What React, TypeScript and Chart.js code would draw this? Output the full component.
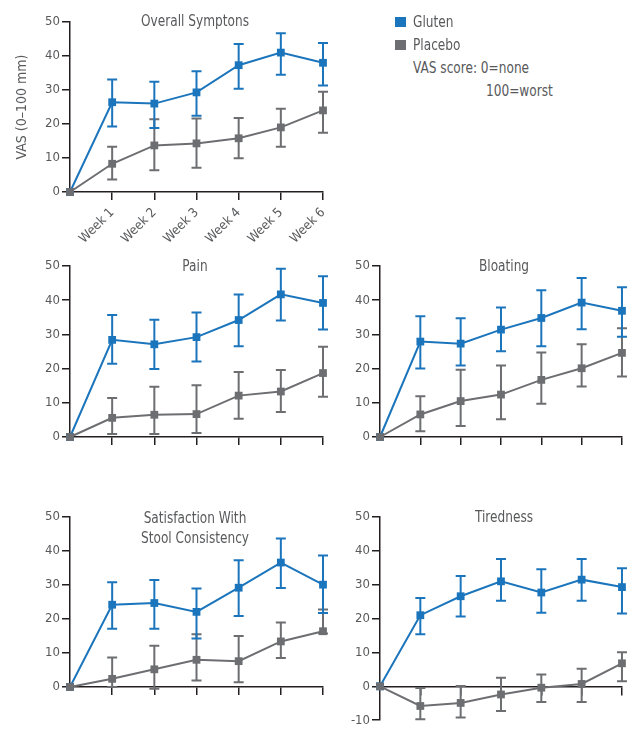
import React, { useEffect, useRef } from "react";
import { Chart, registerables } from "chart.js";
Chart.register(...registerables);

// ---------- data ----------
const weeks = [0, 1, 2, 3, 4, 5, 6];
const weekTickPrefix = "Week ";

const overallGluten = [0, 26.4, 26.0, 29.3, 37.3, 41.0, 38.0];
const overallGlutenHi = [null, 33.1, 32.4, 35.5, 43.5, 46.7, 43.8];
const overallGlutenLo = [null, 19.3, 18.8, 22.4, 30.4, 34.5, 31.3];
const overallPlacebo = [0, 8.3, 13.7, 14.3, 15.8, 19.0, 24.0];
const overallPlaceboHi = [null, 13.3, 21.4, 21.6, 21.8, 24.5, 29.5];
const overallPlaceboLo = [null, 3.7, 6.4, 7.1, 9.9, 13.3, 17.4];

const painGluten = [0, 28.4, 27.1, 29.2, 34.2, 41.7, 39.2];
const painGlutenHi = [null, 35.7, 34.3, 36.4, 41.7, 49.2, 47.0];
const painGlutenLo = [null, 21.4, 19.9, 22.1, 26.5, 34.1, 31.4];
const painPlacebo = [0, 5.6, 6.5, 6.7, 12.1, 13.3, 18.7];
const painPlaceboHi = [null, 11.4, 14.7, 15.1, 19.0, 19.6, 26.4];
const painPlaceboLo = [null, 0.9, 0.9, 1.2, 5.3, 7.3, 11.8];

const bloatingGluten = [0, 27.9, 27.3, 31.4, 34.8, 39.3, 36.9];
const bloatingGlutenHi = [null, 35.3, 34.7, 37.9, 42.9, 46.5, 43.8];
const bloatingGlutenLo = [null, 20.0, 20.9, 25.1, 26.5, 31.5, 29.3];
const bloatingPlacebo = [0, 6.6, 10.5, 12.4, 16.7, 20.1, 24.6];
const bloatingPlaceboHi = [null, 11.9, 19.7, 20.9, 24.7, 27.1, 31.8];
const bloatingPlaceboLo = [null, 1.7, 3.2, 5.2, 9.7, 14.8, 17.7];

const stoolGluten = [0, 24.2, 24.7, 22.1, 29.2, 36.6, 30.1];
const stoolGlutenHi = [null, 30.8, 31.5, 29.0, 37.3, 43.7, 38.7];
const stoolGlutenLo = [null, 17.1, 17.1, 14.3, 20.9, 29.1, 21.8];
const stoolPlacebo = [0, 2.4, 5.2, 8.0, 7.6, 13.4, 16.4];
const stoolPlaceboHi = [null, 8.7, 12.1, 15.5, 15.0, 19.0, 22.8];
const stoolPlaceboLo = [null, 0.0, -0.5, 1.9, 1.4, 8.5, 15.7];

const tiredGluten = [0, 21.0, 26.6, 31.0, 27.7, 31.5, 29.3];
const tiredGlutenHi = [null, 26.1, 32.6, 37.6, 34.6, 37.6, 34.9];
const tiredGlutenLo = [null, 15.4, 20.6, 25.3, 21.7, 25.3, 21.5];
const tiredPlacebo = [0, -5.8, -4.9, -2.4, -0.4, 0.7, 6.8];
const tiredPlaceboHi = [null, -0.5, 0.1, 2.5, 3.5, 5.2, 10.1];
const tiredPlaceboLo = [null, -9.7, -9.2, -7.3, -4.6, -4.6, 1.5];

// ---------- styles ----------
const BLUE = "#1b75bc";
const GRAY = "#6d6e71";
const AXIS = "#231f20";
const TEXT = "#58595b";
const FAMILY = "'Liberation Sans Narrow', 'DejaVu Sans Condensed', 'Roboto Condensed', 'Liberation Sans', sans-serif";

const errorBarPlugin = {
  id: "errorBars",
  beforeDatasetsDraw(chart: any) {
    const { ctx } = chart;
    const yScale = chart.scales.y;
    chart.data.datasets.forEach((ds: any, di: number) => {
      const meta = chart.getDatasetMeta(di);
      ctx.save();
      ctx.strokeStyle = ds.borderColor;
      ctx.lineWidth = 2;
      meta.data.forEach((pt: any, i: number) => {
        const lo = ds.errLo[i];
        const hi = ds.errHi[i];
        if (lo == null || hi == null) return;
        const x = pt.x;
        const yl = yScale.getPixelForValue(lo);
        const yh = yScale.getPixelForValue(hi);
        ctx.beginPath();
        ctx.moveTo(x, yl);
        ctx.lineTo(x, yh);
        ctx.moveTo(x - 5, yl);
        ctx.lineTo(x + 5, yl);
        ctx.moveTo(x - 5, yh);
        ctx.lineTo(x + 5, yh);
        ctx.stroke();
      });
      ctx.restore();
    });
  },
};

type PanelCfg = {
  left: number; top: number; w: number; h: number;
  padTop: number; padRight: number; padBottom: number;
  yAxisW: number; xAxisH: number;
  yMin: number; zeroAxis: boolean; showLabels: boolean; yTitle: boolean;
  gluten: number[]; glutenHi: (number | null)[]; glutenLo: (number | null)[];
  placebo: number[]; placeboHi: (number | null)[]; placeboLo: (number | null)[];
};

const panels: PanelCfg[] = [
  { left: 0, top: 0, w: 340, h: 250, padTop: 22, padRight: 17, padBottom: 0, yAxisW: 70, xAxisH: 58, yMin: 0, zeroAxis: false, showLabels: true, yTitle: true,
    gluten: overallGluten, glutenHi: overallGlutenHi, glutenLo: overallGlutenLo, placebo: overallPlacebo, placeboHi: overallPlaceboHi, placeboLo: overallPlaceboLo },
  { left: 0, top: 250, w: 340, h: 200, padTop: 16, padRight: 17, padBottom: 0, yAxisW: 70, xAxisH: 13, yMin: 0, zeroAxis: false, showLabels: false, yTitle: false,
    gluten: painGluten, glutenHi: painGlutenHi, glutenLo: painGlutenLo, placebo: painPlacebo, placeboHi: painPlaceboHi, placeboLo: painPlaceboLo },
  { left: 330, top: 250, w: 308, h: 200, padTop: 16, padRight: 5, padBottom: 0, yAxisW: 50, xAxisH: 13, yMin: 0, zeroAxis: false, showLabels: false, yTitle: false,
    gluten: bloatingGluten, glutenHi: bloatingGlutenHi, glutenLo: bloatingGlutenLo, placebo: bloatingPlacebo, placeboHi: bloatingPlaceboHi, placeboLo: bloatingPlaceboLo },
  { left: 0, top: 500, w: 340, h: 230, padTop: 17, padRight: 17, padBottom: 0, yAxisW: 70, xAxisH: 43, yMin: 0, zeroAxis: false, showLabels: false, yTitle: false,
    gluten: stoolGluten, glutenHi: stoolGlutenHi, glutenLo: stoolGlutenLo, placebo: stoolPlacebo, placeboHi: stoolPlaceboHi, placeboLo: stoolPlaceboLo },
  { left: 330, top: 500, w: 308, h: 230, padTop: 17, padRight: 5, padBottom: 7, yAxisW: 50, xAxisH: 0, yMin: -10, zeroAxis: true, showLabels: false, yTitle: false,
    gluten: tiredGluten, glutenHi: tiredGlutenHi, glutenLo: tiredGlutenLo, placebo: tiredPlacebo, placeboHi: tiredPlaceboHi, placeboLo: tiredPlaceboLo },
];

function Panel({ cfg }: { cfg: PanelCfg }) {
  const ref = useRef<HTMLCanvasElement>(null);
  useEffect(() => {
    const mk = (label: string, vals: number[], lo: any[], hi: any[], color: string) => ({
      label,
      data: weeks.map((w, i) => ({ x: w, y: vals[i] })),
      borderColor: color,
      backgroundColor: color,
      pointBackgroundColor: color,
      pointBorderColor: color,
      pointStyle: "rect",
      pointRadius: 5.5,
      pointBorderWidth: 0,
      borderWidth: 2,
      clip: false,
      errLo: lo,
      errHi: hi,
    });
    const grid = { drawOnChartArea: false, tickLength: 8, color: AXIS, lineWidth: 1.5 };
    const border = { color: AXIS, width: 1.5 };
    const chart = new Chart(ref.current as HTMLCanvasElement, {
      type: "line",
      data: {
        datasets: [
          mk("Placebo", cfg.placebo, cfg.placeboLo, cfg.placeboHi, GRAY),
          mk("Gluten", cfg.gluten, cfg.glutenLo, cfg.glutenHi, BLUE),
        ] as any,
      },
      options: {
        responsive: false,
        animation: false,
        devicePixelRatio: 1,
        layout: { padding: { top: cfg.padTop, right: cfg.padRight, bottom: cfg.padBottom, left: 0 } },
        plugins: { legend: { display: false }, tooltip: { enabled: false }, title: { display: false } },
        scales: {
          x: {
            type: "linear",
            min: 0,
            max: 6,
            position: (cfg.zeroAxis ? { y: 0 } : "bottom") as any,
            afterBuildTicks: (s: any) => { s.ticks = s.ticks.filter((t: any) => t.value > 0); },
            afterFit: (s: any) => { s.height = cfg.xAxisH; },
            ticks: {
              stepSize: 1,
              autoSkip: false,
              maxRotation: 45,
              minRotation: 45,
              padding: 5,
              color: TEXT,
              font: { family: FAMILY, size: 13 },
              callback: (v: any) => (cfg.showLabels ? weekTickPrefix + v : ""),
            },
            grid,
            border,
          },
          y: {
            min: cfg.yMin,
            max: 50,
            afterFit: (s: any) => { s.width = cfg.yAxisW; },
            ticks: { stepSize: 10, padding: 2, color: TEXT, font: { family: FAMILY, size: 13 } },
            grid,
            border,
            title: {
              display: cfg.yTitle,
              text: "VAS (0–100 mm)",
              color: TEXT,
              font: { family: FAMILY, size: 14 },
              padding: { top: 14, bottom: 0 },
            },
          },
        },
      } as any,
      plugins: [errorBarPlugin],
    });
    return () => chart.destroy();
  }, []);
  return (
    <canvas
      ref={ref}
      width={cfg.w}
      height={cfg.h}
      style={{ position: "absolute", left: cfg.left, top: cfg.top, width: cfg.w, height: cfg.h }}
    />
  );
}

const textStyle: React.CSSProperties = {
  position: "absolute",
  fontFamily: FAMILY,
  fontSize: 15,
  color: TEXT,
  whiteSpace: "nowrap",
  lineHeight: "20px",
};

function Title({ x, y, lines }: { x: number; y: number; lines: string[] }) {
  return (
    <div
      style={{
        ...textStyle,
        left: x - 100,
        top: y,
        width: 200,
        textAlign: "center",
        transform: "scaleX(0.9)",
        transformOrigin: "center top",
      }}
    >
      {lines.map((l, i) => (
        <div key={i}>{l}</div>
      ))}
    </div>
  );
}

function LegendText({ x, y, text }: { x: number; y: number; text: string }) {
  return (
    <div style={{ ...textStyle, left: x, top: y, transform: "scaleX(0.9)", transformOrigin: "left top" }}>{text}</div>
  );
}

export default function App() {
  return (
    <div style={{ position: "relative", width: 638, height: 730 }}>
      <div style={{ position: "absolute", left: -8, top: -8, width: 638, height: 730 }}>
        {panels.map((p, i) => (
          <Panel key={i} cfg={p} />
        ))}
        <Title x={195} y={11} lines={["Overall Symptons"]} />
        <Title x={195} y={256} lines={["Pain"]} />
        <Title x={504} y={256} lines={["Bloating"]} />
        <Title x={195} y={508} lines={["Satisfaction With", "Stool Consistency"]} />
        <Title x={504} y={507} lines={["Tiredness"]} />
        <div style={{ position: "absolute", left: 395, top: 17, width: 11, height: 10, background: BLUE }} />
        <div style={{ position: "absolute", left: 395, top: 40, width: 11, height: 10, background: GRAY }} />
        <LegendText x={413} y={12} text="Gluten" />
        <LegendText x={413} y={35} text="Placebo" />
        <LegendText x={413} y={58} text="VAS score: 0=none" />
        <LegendText x={486} y={81} text="100=worst" />
      </div>
    </div>
  );
}
